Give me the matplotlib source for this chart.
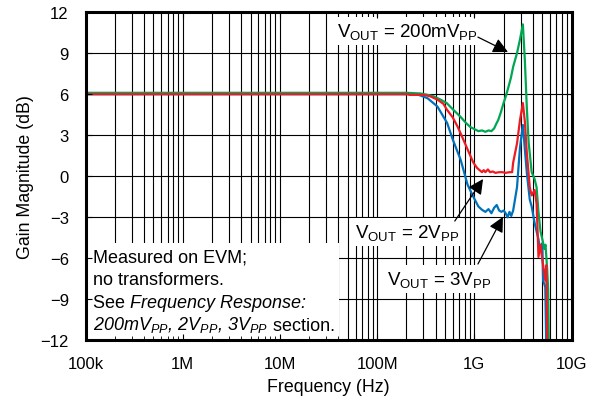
import matplotlib
matplotlib.use('Agg')
import matplotlib.pyplot as plt
from matplotlib.patches import Rectangle
from matplotlib.ticker import FixedLocator, LogLocator, NullFormatter

plt.rcParams['font.family'] = ['Liberation Sans', 'DejaVu Sans']
plt.rcParams['mathtext.fontset'] = 'custom'
plt.rcParams['mathtext.rm'] = 'Liberation Sans'
plt.rcParams['mathtext.it'] = 'Liberation Sans:italic'
plt.rcParams['mathtext.default'] = 'regular'

# Gain vs frequency, read per output swing
green_f = [1e5, 2e8, 2.8e8, 3.3e8, 3.8e8, 4.5e8, 5.2e8, 6.0e8, 7.2e8, 8.2e8, 9.1e8,
           1.0e9, 1.1e9, 1.2e9, 1.3e9, 1.4e9, 1.5e9, 1.6e9, 1.7e9, 1.76e9, 1.86e9,
           2.0e9, 2.12e9, 2.24e9, 2.38e9, 2.51e9, 2.75e9, 2.95e9, 3.16e9, 3.31e9,
           3.47e9, 3.62e9, 3.89e9, 4.17e9, 4.37e9, 4.57e9, 4.79e9, 5.01e9, 5.25e9,
           5.4e9, 5.62e9, 5.75e9, 5.85e9]
green_db = [6.1, 6.1, 6.05, 5.95, 5.85, 5.6, 5.35, 4.9, 4.35, 3.9, 3.6,
            3.45, 3.3, 3.35, 3.25, 3.35, 3.3, 3.5, 3.9, 4.1, 4.6,
            5.35, 5.9, 6.5, 7.2, 8.0, 9.0, 10.0, 11.1, 8.5,
            5.0, 2.5, 0.3, -0.2, -0.8, -2.6, -4.0, -4.6, -5.3,
            -5.0, -6.8, -8.3, -12.5]

blue_f = [1e5, 2.5e8, 2.8e8, 3.31e8, 4.17e8, 5.25e8, 6.03e8, 7.24e8, 8.51e8, 9.77e8,
          1.1e9, 1.2e9, 1.3e9, 1.4e9, 1.5e9, 1.6e9, 1.7e9, 1.8e9, 1.9e9, 2.0e9,
          2.1e9, 2.2e9, 2.3e9, 2.4e9, 2.51e9, 2.75e9, 2.95e9, 3.16e9, 3.31e9, 3.47e9,
          3.72e9, 3.89e9, 4.17e9, 4.57e9, 4.8e9, 5.01e9, 5.1e9, 5.37e9, 5.5e9]
blue_db = [6.0, 6.0, 5.9, 5.7, 5.1, 3.9, 2.65, 1.2, -0.6, -1.5,
           -2.2, -2.45, -2.6, -2.4, -2.7, -2.3, -2.1, -2.5, -2.6, -2.5,
           -2.7, -3.0, -2.6, -2.9, -2.5, -0.8, 2.1, 3.75, 2.0, 0.25,
           -1.7, -2.2, -3.4, -4.6, -5.5, -4.9, -7.6, -8.1, -12.5]

red_f = [1e5, 2.1e8, 2.15e8, 3.0e8, 3.5e8, 4.17e8, 4.8e8, 5.25e8, 6.0e8, 6.76e8,
         7.8e8, 8.6e8, 9.1e8, 9.77e8, 1.07e9, 1.2e9, 1.25e9, 1.3e9, 1.38e9, 1.45e9,
         1.55e9, 1.65e9, 1.8e9, 1.95e9, 2.1e9, 2.3e9, 2.45e9, 2.51e9, 2.75e9, 2.95e9,
         3.16e9, 3.31e9, 3.47e9, 3.72e9, 3.89e9, 4.17e9, 4.37e9, 4.5e9, 4.57e9, 4.8e9,
         5.01e9, 5.37e9, 5.5e9, 5.62e9, 5.7e9]
red_db = [6.0, 6.0, 5.95, 5.95, 5.85, 5.6, 5.3, 4.85, 4.3, 3.6,
          2.6, 1.9, 1.5, 1.0, 0.6, 0.3, 0.45, 0.3, 0.5, 0.3,
          0.35, 0.25, 0.3, 0.3, 0.25, 0.3, 0.3, 1.0, 2.4, 4.1,
          5.35, 4.0, 1.7, -0.8, -1.4, -1.0, -2.0, -4.4, -5.9, -5.0,
          -6.1, -7.6, -6.5, -11.7, -12.5]

y_ticks = [12, 9, 6, 3, 0, -3, -6, -9, -12]
x_ticks = [1e5, 1e6, 1e7, 1e8, 1e9, 1e10]
x_labels = ['100k', '1M', '10M', '100M', '1G', '10G']

fig = plt.figure(figsize=(5.98, 4.02), dpi=100)
pos = [0.143, 0.1505, 0.8127, 0.817]
ax = fig.add_axes(pos)

ax.plot(blue_f, blue_db, color='#0072BC', lw=1.6, zorder=3)
ax.plot(green_f, green_db, color='#00A651', lw=1.6, zorder=3)
ax.plot(red_f, red_db, color='#ED1C24', lw=1.6, zorder=3)

ax.set_xscale('log')
ax.set_xlim(1e5, 1e10)
ax.set_ylim(-12, 12)
ax.set_xticks(x_ticks)
ax.set_xticklabels(x_labels)
ax.xaxis.set_minor_locator(LogLocator(base=10, subs=range(2, 10)))
ax.xaxis.set_minor_formatter(NullFormatter())
ax.yaxis.set_major_locator(FixedLocator(y_ticks))
ax.set_yticklabels([f'{v}'.replace('-', '\u2212') for v in y_ticks])

# grid sits under the white text boxes; tick marks go on an overlay axes
ax.grid(True, which='both', axis='x', color='black', lw=0.8)
ax.grid(True, which='major', axis='y', color='black', lw=0.8)
ax.set_axisbelow(True)
ax.tick_params(which='both', length=0, labelsize=12)
ax.tick_params(axis='x', pad=11)
ax.tick_params(axis='y', pad=12)
for s in ax.spines.values():
    s.set_visible(False)

ax.set_xlabel('Frequency (Hz)', fontsize=12.8, labelpad=5)
ax.set_ylabel('Gain Magnitude (dB)', fontsize=12.8, labelpad=5)

over = fig.add_axes(pos, sharex=ax, sharey=ax, facecolor='none')
over.set_zorder(ax.get_zorder() + 1)
over.tick_params(which='both', direction='in', length=4, top=True, right=True,
                 labelbottom=False, labelleft=False)
over.tick_params(which='minor', length=3)
for s in over.spines.values():
    s.set_linewidth(2.2)

# curve call-outs
box = dict(facecolor='white', edgecolor='none', pad=3)
arrow = dict(arrowstyle='-|>,head_length=0.6,head_width=0.3', color='black', lw=0.9,
             mutation_scale=15, shrinkA=0, shrinkB=0)

ax.text(3.87e7, 10.27, r'V$_{OUT}$ = 200mV$_{PP}$', ha='left', va='baseline',
        fontsize=13.5, bbox=box, zorder=4)
ax.annotate('', xy=(2.22e9, 9.08), xytext=(1.09e9, 10.17), arrowprops=arrow, zorder=5)

ax.text(5.93e7, -4.46, r'V$_{OUT}$ = 2V$_{PP}$', ha='left', va='baseline',
        fontsize=13.5, bbox=box, zorder=4)
ax.annotate('', xy=(1.23e9, -0.2), xytext=(6.3e8, -3.27), arrowprops=arrow, zorder=5)

ax.text(1.256e8, -7.87, r'V$_{OUT}$ = 3V$_{PP}$', ha='left', va='baseline',
        fontsize=13.5, bbox=box, zorder=4)
ax.annotate('', xy=(1.97e9, -2.97), xytext=(1.09e9, -6.41), arrowprops=arrow, zorder=5)

# test-condition note in the lower-left corner
ax.add_patch(Rectangle((0.0, 0.0), 0.5216, 0.297, transform=ax.transAxes,
                       facecolor='white', edgecolor='none', zorder=2.5))
nx = 0.0154
ax.text(nx, 0.242, 'Measured on EVM;', transform=ax.transAxes,
        va='baseline', fontsize=13, zorder=4)
ax.text(nx, 0.172, 'no transformers.', transform=ax.transAxes,
        va='baseline', fontsize=13, zorder=4)
see = ax.text(nx, 0.102, 'See ', transform=ax.transAxes,
              va='baseline', fontsize=13, zorder=4)
ax.annotate('Frequency Response:', xy=(1, 0), xycoords=see, va='bottom',
            fontsize=13, style='italic', zorder=4)
swings = ax.text(nx, 0.035, r'200mV$_{PP}$, 2V$_{PP}$, 3V$_{PP}$', transform=ax.transAxes,
                 va='baseline', fontsize=13, style='italic', zorder=4)
ax.annotate(' section.', xy=(1, 0), xycoords=swings, va='bottom',
            fontsize=13, zorder=4)

fig.savefig('out.png', dpi=100)
